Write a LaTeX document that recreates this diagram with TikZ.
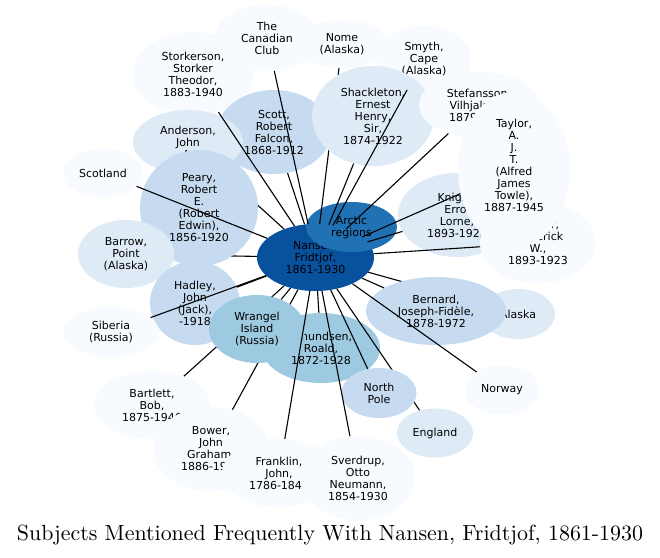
\documentclass[tikz,border=0pt]{standalone}
\usepackage{fontspec}
\newfontfamily\nodefont{DejaVu Sans}
\usetikzlibrary{shapes.geometric}
\definecolor{bA}{HTML}{F7FBFF}
\definecolor{bB}{HTML}{DEEBF7}
\definecolor{bC}{HTML}{C6DBEF}
\definecolor{bD}{HTML}{9ECAE1}
\definecolor{bF}{HTML}{2171B5}
\definecolor{bG}{HTML}{08519C}
\pgfdeclarelayer{paper}
\pgfdeclarelayer{back}
\pgfdeclarelayer{mid}
\pgfsetlayers{paper,back,mid,main}
\begin{document}
\begin{tikzpicture}[x=1pt,y=-1pt,
  nd/.style={ellipse, draw=none, inner sep=0pt, align=center, text=black,
    font=\nodefont\fontsize{11}{12}\selectfont},
  lbl/.style={inner sep=0pt, align=center, text=black,
    font=\nodefont\fontsize{11}{12}\selectfont},
  sz/.style 2 args={minimum width=#1pt, minimum height=#2pt},
  edge/.style={draw=black, line width=1.1pt}]
\begin{pgfonlayer}{paper}
\fill[white] (0,0) rectangle (660,557);
\end{pgfonlayer}
\useasboundingbox (0,0) rectangle (660,557);

\begin{pgfonlayer}{back}
\node[nd, fill=bG, sz={117}{67}] (nansen) at (315.5,257.5) {Nansen,\\Fridtjof,\\1861-1930};
\node[nd, fill=bF, sz={91}{50}] (arctic) at (351.5,227) {Arctic\\regions};
\node[nd, fill=bD, sz={118}{70}] (amundsen) at (321,348) {Amundsen,\\Roald,\\1872-1928};
\end{pgfonlayer}

\node[nd, fill=bA, sz={104}{66}] (club) at (267,38) {The\\Canadian\\Club};
\node[nd, fill=bA, sz={90}{48}] (nome) at (342,44) {Nome\\(Alaska)};
\node[nd, fill=bA, sz={120}{84}] (stork) at (193,74) {Storkerson,\\Storker\\Theodor,\\1883-1940};
\node[nd, fill=bA, sz={94}{66}] (smyth) at (424,59) {Smyth,\\Cape\\(Alaska)};
\node[nd, fill=bC, sz={114}{84}] (scott) at (274,132) {Scott,\\Robert\\Falcon,\\1868-1912};
\node[nd, fill=bB, sz={110}{64}] (anderson) at (188,142) {Anderson,\\John\\A.};
\node[nd, fill=bB, sz={122}{100}] (shack) at (373,116) {Shackleton,\\Ernest\\Henry,\\Sir,\\1874-1922};
\node[nd, fill=bA, sz={120}{66}] (stef) at (479,105) {Stefansson,\\Vilhjalmur,\\1879-1962};
\node[nd, fill=bB, sz={118}{84}] (knight) at (457,215) {Knight,\\Errol\\Lorne,\\1893-1923};
\node[nd, fill=bA, sz={116}{80}] (maurer) at (538,243) {Maurer,\\Frederick\\W.,\\1893-1923};
\node[nd, fill=bA, sz={112}{156}] (taylor) at (514,170) {};
\node[lbl] (taylortext) at (514,165) {Taylor,\\A.\\J.\\T.\\(Alfred\\James\\Towle),\\1887-1945};
\node[nd, fill=bA, sz={80}{48}] (scotland) at (103,173) {Scotland};
\node[nd, fill=bC, sz={118}{116}] (peary) at (199,208) {Peary,\\Robert\\E.\\(Robert\\Edwin),\\1856-1920};
\node[nd, fill=bB, sz={96}{68}] (barrow) at (126,254) {Barrow,\\Point\\(Alaska)};
\node[nd, fill=bC, sz={90}{84}] (hadley) at (195,303) {Hadley,\\John\\(Jack),\\-1918};
\node[nd, fill=bA, sz={96}{50}] (siberia) at (111,332) {Siberia\\(Russia)};
\node[nd, fill=bD, sz={96}{68}] (wrangel) at (257,329) {Wrangel\\Island\\(Russia)};
\node[nd, fill=bB, sz={74}{50}] (alaska) at (518,314) {Alaska};
\node[nd, fill=bC, sz={140}{68}] (bernard) at (436,311) {Bernard,\\Joseph-Fidèle,\\1878-1972};
\node[nd, fill=bC, sz={75}{50}] (npole) at (379,393) {North\\Pole};
\node[nd, fill=bA, sz={74}{49}] (norway) at (502,390) {Norway};
\node[nd, fill=bB, sz={76}{49}] (england) at (435,433) {England};
\node[nd, fill=bA, sz={116}{68}] (bartlett) at (152,405) {Bartlett,\\Bob,\\1875-1946};
\node[nd, fill=bA, sz={116}{84}] (bower) at (211,449) {Bower,\\John\\Graham,\\1886-1940};
\node[nd, fill=bA, sz={114}{68}] (franklin) at (279,473) {Franklin,\\John,\\1786-1847};
\node[nd, fill=bA, sz={114}{84}] (sverdrup) at (358,478) {Sverdrup,\\Otto\\Neumann,\\1854-1930};

\begin{pgfonlayer}{mid}
\draw[edge] (nansen) -- (nome);
\draw[edge] (nansen) -- (barrow);
\draw[edge] (nansen) -- (anderson);
\draw[edge] (nansen) -- (alaska);
\draw[edge] (nansen) -- (england);
\draw[edge] (nansen) -- (bower);
\draw[edge] (nansen) -- (bartlett);
\end{pgfonlayer}

\draw[edge] (nansen) -- (club);
\draw[edge] (nansen) -- (stork);
\draw[edge] (nansen) -- (scott);
\draw[edge] (nansen) -- (smyth);
\draw[edge] (nansen) -- (shack);
\draw[edge] (nansen) -- (stef);
\draw[edge] (nansen) -- (taylor);
\draw[edge] (nansen) -- (knight);
\draw[edge] (nansen) -- (maurer);
\draw[edge] (nansen) -- (scotland);
\draw[edge] (nansen) -- (hadley);
\draw[edge] (nansen) -- (siberia);
\draw[edge] (nansen) -- (wrangel);
\draw[edge] (nansen) -- (amundsen);
\draw[edge] (nansen) -- (franklin);
\draw[edge] (nansen) -- (sverdrup);
\draw[edge] (nansen) -- (npole);
\draw[edge] (nansen) -- (norway);
\draw[edge] (nansen) -- (bernard);

\node (title) at (330,535) {\resizebox{626pt}{!}{Subjects Mentioned Frequently With Nansen, Fridtjof, 1861-1930}};
\end{tikzpicture}
\end{document}
